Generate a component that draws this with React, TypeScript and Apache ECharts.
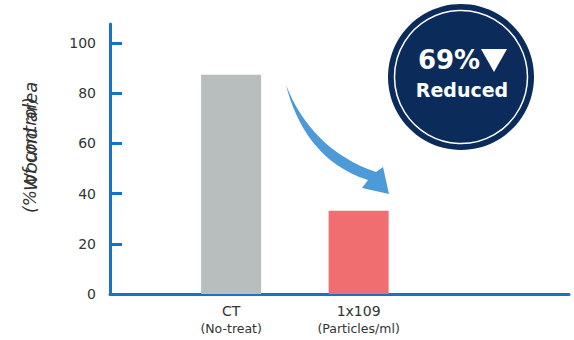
import React, { useEffect, useRef } from "react";
import * as echarts from "echarts";

const categories = ["CT", "1x109"];
const subLabels = ["(No-treat)", "(Particles/ml)"];
const categoryPositions = [1, 2];
const values = [87.3, 33.1];
const barColors = ["#b8bebd", "#f06e6f"];
const yTicks = [0, 20, 40, 60, 80, 100];
const badgeValue = "69%";
const badgeLabel = "Reduced";
const yNameA = "(% of control)";
const yNameB = "Wound area";

const FONT = "'DejaVu Sans'";

const ARROW_D =
  "M286,85 C296,125 320,165 368,180 L362,188 L389,194 L383,167 L376,172 C332,157 302,126 286,85 Z";

let registered = false;

export default function App() {
  const ref = useRef<HTMLDivElement>(null);
  useEffect(() => {
    document.body.style.margin = "0";
    if (!registered) {
      echarts.graphic.registerShape("arrowShape", echarts.graphic.extendPath(ARROW_D, {}) as any);
      registered = true;
    }
    const chart = echarts.init(ref.current!, null, { renderer: "svg" });
    const axisColor = "#1a72c6";
    chart.setOption({
      animation: false,
      textStyle: { fontFamily: "DejaVu Sans" },
      grid: { left: 110, right: 5, top: 24, bottom: 46 },
      xAxis: {
        type: "value",
        min: 0.05,
        max: 3.65,
        splitLine: { show: false },
        axisLine: { show: true, lineStyle: { color: axisColor, width: 3 } },
        axisTick: { show: false },
        axisLabel: {
          customValues: categoryPositions,
          margin: 8,
          formatter: (v: number) => {
            const i = categoryPositions.indexOf(v);
            if (i < 0) return "";
            return `{a|${categories[i]}}\n{b|${subLabels[i]}}`;
          },
          rich: {
            a: { fontFamily: "DejaVu Sans", fontSize: 14, color: "#333", lineHeight: 18 },
            b: { fontFamily: "DejaVu Sans", fontSize: 12.5, color: "#333", lineHeight: 16 },
          },
        },
      },
      yAxis: {
        type: "value",
        min: 0,
        max: 107.5,
        splitLine: { show: false },
        axisLine: { show: true, lineStyle: { color: axisColor, width: 3 } },
        axisTick: {
          show: true,
          inside: true,
          length: 12,
          customValues: yTicks.slice(1),
          lineStyle: { color: axisColor, width: 3 },
        },
        axisLabel: {
          customValues: yTicks,
          margin: 14,
          fontFamily: "DejaVu Sans",
          fontSize: 14,
          color: "#333",
        },
      },
      series: [
        {
          type: "bar",
          barWidth: 60,
          data: categoryPositions.map((x, i) => ({
            value: [x, values[i]],
            itemStyle: { color: barColors[i] },
          })),
        },
      ],
      graphic: [
        {
          type: "text",
          x: 30,
          y: 213,
          rotation: Math.PI / 2,
          style: {
            text: yNameA,
            font: `italic 17px ${FONT}`,
            fill: "#333",
            align: "left",
            verticalAlign: "middle",
          },
        },
        {
          type: "text",
          x: 30,
          y: 191,
          rotation: Math.PI / 2,
          style: {
            text: yNameB,
            font: `italic 18px ${FONT}`,
            fill: "#333",
            align: "left",
            verticalAlign: "middle",
          },
        },
        {
          type: "arrowShape",
          x: 0,
          y: 0,
          style: { fill: "#4d9ad9" },
        },
        {
          type: "circle",
          shape: { cx: 461, cy: 77, r: 73 },
          style: { fill: "#0b2c5b" },
        },
        {
          type: "circle",
          shape: { cx: 461, cy: 77, r: 66.5 },
          style: { fill: "none", stroke: "#ffffff", lineWidth: 1.5 },
        },
        {
          type: "text",
          x: 449,
          y: 60,
          style: {
            text: badgeValue,
            font: `bold 26px ${FONT}`,
            fill: "#fff",
            align: "center",
            verticalAlign: "middle",
          },
        },
        {
          type: "polygon",
          shape: { points: [[481, 49], [507, 49], [494, 72]] },
          style: { fill: "#fff" },
        },
        {
          type: "text",
          x: 462,
          y: 90,
          style: {
            text: badgeLabel,
            font: `bold 19px ${FONT}`,
            fill: "#fff",
            align: "center",
            verticalAlign: "middle",
          },
        },
      ],
    });
    return () => chart.dispose();
  }, []);
  return <div ref={ref} style={{ width: 574, height: 340 }} />;
}
